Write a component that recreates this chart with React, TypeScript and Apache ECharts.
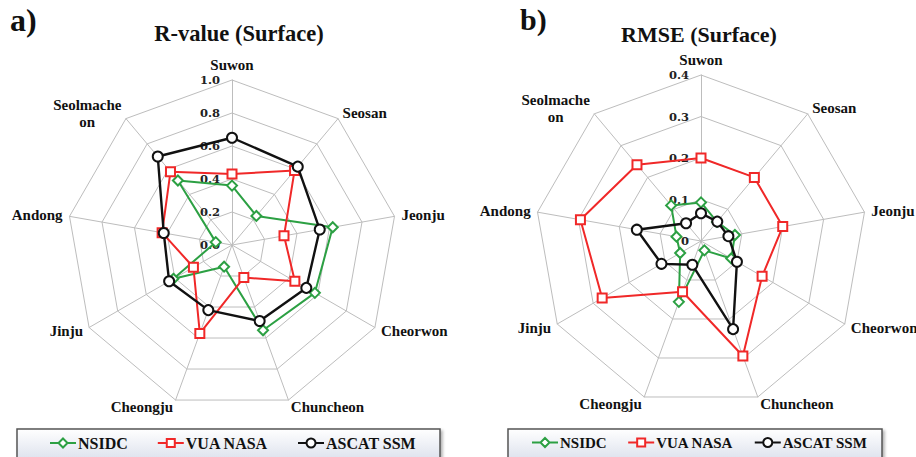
import React, { useEffect, useRef } from 'react';
import * as echarts from 'echarts';

// Categories in clockwise order starting from the top
const categories = ['Suwon', 'Seosan', 'Jeonju', 'Cheorwon', 'Chuncheon', 'Cheongju', 'Jinju', 'Andong', 'Seolmache\non'];
const seriesNames = ['NSIDC', 'VUA NASA', 'ASCAT SSM'];

// a) R-value (Surface)
const rNSIDC = [0.36, 0.23, 0.62, 0.58, 0.55, 0.14, 0.41, 0.10, 0.51];
const rVUA = [0.43, 0.59, 0.32, 0.44, 0.21, 0.57, 0.27, 0.43, 0.58];
const rASCAT = [0.65, 0.62, 0.54, 0.52, 0.49, 0.42, 0.44, 0.42, 0.70];
const rMax = 1.0;
const rStep = 0.2;

// b) RMSE (Surface)
const eNSIDC = [0.093, 0.06, 0.083, 0.084, 0.024, 0.156, 0.058, 0.06, 0.112];
const eVUA = [0.20, 0.20, 0.20, 0.17, 0.295, 0.13, 0.275, 0.295, 0.24];
const eASCAT = [0.067, 0.061, 0.067, 0.10, 0.226, 0.061, 0.11, 0.157, 0.056];
const eMax = 0.4;
const eStep = 0.1;

const colors = ['#2ca043', '#f02828', '#111111'];
const symbols = ['emptyDiamond', 'emptyRect', 'emptyCircle'];
const symbolSizes = [10, 9, 10];
const legendIcons = [
  'path://M0,6 L8.5,6 M13,1.5 L17.5,6 L13,10.5 L8.5,6 Z M17.5,6 L26,6',
  'path://M0,6 L9,6 M9,2 L17,2 L17,10 L9,10 Z M17,6 L26,6',
  'path://M0,6 L8.5,6 M8.5,6 A4.5,4.5 0 1 1 17.5,6 A4.5,4.5 0 1 1 8.5,6 Z M17.5,6 L26,6',
];

const FONT = '"Liberation Serif", "Times New Roman", serif';
const TICKFONT = '"DejaVu Serif", serif';

// ECharts lays radar indicators out counter-clockwise; reorder to get clockwise
const order = categories.map((_, i) => (i === 0 ? 0 : categories.length - i));
const reorder = (arr: any[]) => order.map((i) => arr[i]);

export default function App() {
  const ref = useRef<HTMLDivElement>(null);
  useEffect(() => {
    if (!ref.current) return;
    const chart = echarts.init(ref.current, undefined, { renderer: 'svg' });

    const radarBase = (center: number[], radius: number, max: number, split: number) => ({
      center,
      radius,
      startAngle: 90,
      shape: 'polygon',
      splitNumber: split,
      axisNameGap: 7,
      indicator: reorder(categories).map((name) => ({ name, min: 0, max })),
      axisName: {
        color: '#111',
        fontFamily: FONT,
        fontWeight: 'bold',
        fontSize: 15,
        formatter: (name: string) => name.split('\n').map((s) => `{c|${s}}`).join('\n'),
        rich: {
          c: { fontFamily: FONT, fontWeight: 'bold', fontSize: 15, color: '#111', align: 'center', lineHeight: 17 },
        },
      },
      axisLine: { lineStyle: { color: '#bdbdbd', width: 1 } },
      splitLine: { lineStyle: { color: '#bdbdbd', width: 1 } },
      splitArea: { show: false },
      axisTick: { show: false },
      axisLabel: { show: false },
    });

    const radiusAxisBase = (polarIndex: number, max: number, step: number, fmt: (v: number) => string) => ({
      polarIndex,
      min: 0,
      max,
      interval: step,
      axisLine: { show: false },
      axisTick: { show: false },
      splitLine: { show: false },
      z: 1,
      axisLabel: {
        show: true,
        margin: 12,
        color: '#222',
        fontFamily: TICKFONT,
        fontWeight: 'bold',
        fontSize: 11.5,
        formatter: fmt,
      },
    });

    const mk = (idx: number, data: number[], radarIndex: number) => ({
      type: 'radar',
      radarIndex,
      name: seriesNames[idx],
      symbol: symbols[idx],
      symbolSize: symbolSizes[idx],
      z: 3 + idx,
      lineStyle: { color: colors[idx], width: idx === 2 ? 2.4 : 2 },
      itemStyle: { color: colors[idx], borderColor: colors[idx], borderWidth: 2 },
      data: [{ value: reorder(data), name: seriesNames[idx] }],
    });

    const legendBase = (left: number, gap: number, size: number) => {
      const textStyle = {
        fontFamily: FONT,
        fontWeight: 'bold' as const,
        fontSize: size,
        color: '#111',
        padding: [0, 0, 0, -3],
      };
      return {
        left,
        top: 435,
        itemWidth: 26,
        itemHeight: 12,
        itemGap: gap,
        padding: 0,
        selectedMode: false,
        itemStyle: { color: '#ffffff', borderWidth: 2 },
        data: seriesNames.map((name, i) => ({ name, icon: legendIcons[i], textStyle })),
        textStyle,
      };
    };

    const boxFill = () =>
      new echarts.graphic.LinearGradient(0, 0, 0, 1, [
        { offset: 0, color: '#ffffff' },
        { offset: 1, color: '#d3d9e8' },
      ]);

    chart.setOption({
      animation: false,
      backgroundColor: '#ffffff',
      radar: [radarBase([232, 245], 165, rMax, 5), radarBase([701, 241], 166, eMax, 4)],
      polar: [
        { center: [232, 245], radius: 165 },
        { center: [701, 241], radius: 166 },
      ],
      angleAxis: [
        { polarIndex: 0, startAngle: 90, min: 0, max: 360, show: false },
        { polarIndex: 1, startAngle: 90, min: 0, max: 360, show: false },
      ],
      radiusAxis: [
        radiusAxisBase(0, rMax, rStep, (v: number) => v.toFixed(1)),
        radiusAxisBase(1, eMax, eStep, (v: number) => (v === 0 ? '0' : v.toFixed(1))),
      ],
      legend: [legendBase(49, 29, 16), legendBase(531, 20.5, 15)],
      graphic: [
        {
          type: 'rect',
          z: 0,
          shape: { x: 17, y: 429, width: 423, height: 40 },
          style: { fill: boxFill(), stroke: '#555', lineWidth: 1.5, shadowBlur: 3, shadowOffsetX: 2, shadowOffsetY: 2, shadowColor: 'rgba(0,0,0,0.3)' },
        },
        {
          type: 'rect',
          z: 0,
          shape: { x: 508, y: 429, width: 374, height: 40 },
          style: { fill: boxFill(), stroke: '#555', lineWidth: 1.5, shadowBlur: 3, shadowOffsetX: 2, shadowOffsetY: 2, shadowColor: 'rgba(0,0,0,0.3)' },
        },
        {
          type: 'text',
          x: 10,
          y: 20,
          style: { text: 'a)', font: `bold 32px ${FONT}`, fill: '#111', verticalAlign: 'middle' },
        },
        {
          type: 'text',
          x: 520,
          y: 19,
          style: { text: 'b)', font: `bold 30px ${FONT}`, fill: '#111', verticalAlign: 'middle' },
        },
        {
          type: 'text',
          x: 239,
          y: 33,
          style: { text: 'R-value (Surface)', font: `bold 22.5px ${FONT}`, fill: '#111', align: 'center', verticalAlign: 'middle' },
        },
        {
          type: 'text',
          x: 699,
          y: 34.5,
          style: { text: 'RMSE (Surface)', font: `bold 22px ${FONT}`, fill: '#111', align: 'center', verticalAlign: 'middle' },
        },
      ],
      series: [
        mk(0, rNSIDC, 0),
        mk(1, rVUA, 0),
        mk(2, rASCAT, 0),
        mk(0, eNSIDC, 1),
        mk(1, eVUA, 1),
        mk(2, eASCAT, 1),
      ],
    });
    return () => chart.dispose();
  }, []);
  return <div ref={ref} style={{ position: 'absolute', left: 0, top: 0, width: 916, height: 457 }} />;
}
